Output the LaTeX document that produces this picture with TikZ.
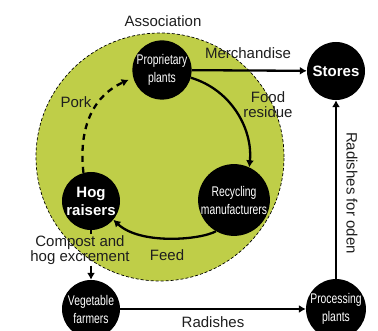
\documentclass[tikz,border=0pt]{standalone}
\usepackage{fontspec}
\setmainfont{Liberation Sans}
\newfontfamily\narrowfont[FakeStretch=0.74]{Liberation Sans}
\usetikzlibrary{arrows.meta}
\definecolor{assocgreen}{RGB}{191,206,72}
\definecolor{labelgray}{RGB}{30,30,30}
\tikzset{
  actor/.style={circle, fill=black, text=white, minimum size=58pt, inner sep=0pt,
    align=center, font=\narrowfont\fontsize{14}{18}\selectfont},
  bigactor/.style={actor, font=\bfseries\fontsize{15}{18}\selectfont},
  flow/.style={line width=2.3pt, -{Latex[length=7pt,width=8pt]}},
  flowlabel/.style={text=labelgray, align=center, inner sep=1pt,
    font=\fontsize{15}{15}\selectfont}
}
\begin{document}
\begin{tikzpicture}[x=1pt,y=-1pt]
\useasboundingbox (0,0) rectangle (378,331);

% association boundary
\draw[fill=assocgreen, line width=0.7pt, dash pattern=on 3pt off 2pt]
  (160,157) circle[radius=124pt];
\node[flowlabel] (assoc) at (163,21) {Association};

% actors
\node[actor]    (prop)   at (162,70)  {Proprietary\\plants};
\node[bigactor] (stores) at (336,71)  {Stores};
\node[bigactor] (hog)    at (91,201)  {Hog\\raisers};
\node[actor]    (recyc)  at (234,200) {Recycling\\manufacturers};
\node[actor]    (veg)    at (91,309)  {Vegetable\\farmers};
\node[actor]    (proc)   at (336,309) {Processing\\plants};

% labels
\node[flowlabel] (merch) at (248,53)  {Merchandise};
\node[flowlabel] (food)  at (268,105) {Food\\residue};
\node[flowlabel] (pork)  at (76,102)  {Pork};
\node[flowlabel] (feed)  at (167,255) {Feed};
\node[flowlabel] (comp)  at (80,250)  {Compost and\\hog excrement};
\node[flowlabel] (rad)   at (213,322) {Radishes};
\node[flowlabel, rotate=-90] (oden) at (352,193) {Radishes for oden};

% flows
\draw[flow] (prop) -- (stores);
\draw[flow] (prop.-15) .. controls (232,90) and (253,130) .. (recyc.65);
\draw[flow] (recyc.-120) .. controls (200,240) and (140,245) .. (hog.-40);
\draw[flow, dash pattern=on 6pt off 5pt, shorten >=5pt]
  (hog.105) .. controls (78,125) and (95,95) .. (prop.195);
\draw[line width=2.3pt] (hog.south) -- (hog.south |- comp.north);
\draw[flow] (hog.south |- comp.south) -- (veg.north);
\draw[flow] (veg) -- (proc);
\draw[flow] (proc) -- (stores);
\end{tikzpicture}
\end{document}
